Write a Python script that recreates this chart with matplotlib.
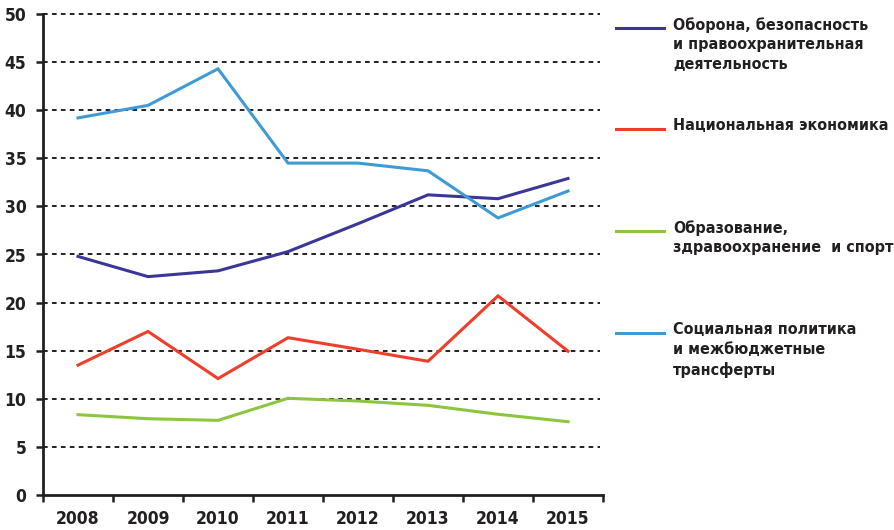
import matplotlib
matplotlib.use("Agg")
import matplotlib.pyplot as plt
from matplotlib.lines import Line2D
from matplotlib import font_manager as fm

years = ["2008", "2009", "2010", "2011", "2012", "2013", "2014", "2015"]
defense = [24.8, 22.7, 23.3, 25.3, 28.2, 31.2, 30.8, 32.9]
economy = [13.5, 17.0, 12.1, 16.35, 15.15, 13.9, 20.7, 14.95]
education = [8.35, 7.93, 7.76, 10.05, 9.77, 9.32, 8.39, 7.62]
social = [39.2, 40.5, 44.3, 34.5, 34.5, 33.7, 28.8, 31.6]

labels = [
    "Оборона, безопасность\nи правоохранительная\nдеятельность",
    "Национальная экономика",
    "Образование,\nздравоохранение  и спорт",
    "Социальная политика\nи межбюджетные\nтрансферты",
]
colors = ["#3b3799", "#ef3e2a", "#8dc540", "#3e9bd6"]
series = [defense, economy, education, social]

cond = [f.fname for f in fm.fontManager.ttflist
        if "condensed" in f.fname.lower() and "bold" in f.fname.lower()
        and "oblique" not in f.fname.lower() and "italic" not in f.fname.lower()]
cond_dv = [p for p in cond if "dejavu" in p.lower()]
pick = (cond_dv or cond)
if pick:
    def fp(size):
        return fm.FontProperties(fname=pick[0], size=size)
    leg_size = 11.5
else:
    def fp(size):
        return fm.FontProperties(family=["Liberation Sans", "DejaVu Sans"], weight="bold", size=size)
    leg_size = 11
txt = "#231f20"

fig = plt.figure(figsize=(8.94, 5.30), dpi=100)
ax = fig.add_axes([43/894, 35/530, 560/894, 481/530])

x = list(range(len(years)))
for vals, c in zip(series, colors):
    ax.plot(x, vals, color=c, lw=2.2, solid_joinstyle="miter", zorder=3)

ax.set_xlim(-0.5, 7.5)
ax.set_ylim(0, 50)
ax.set_yticks(range(0, 51, 5))
for v in range(5, 51, 5):
    ax.plot([-0.5, 7.45], [v, v], color="#231f20", lw=1.4, ls=(0, (2.4, 2.2)), zorder=1, clip_on=False)

ax.set_xticks(x)
ax.set_xticklabels(years)
ax.set_xticks([i - 0.5 for i in range(len(years) + 1)], minor=True)
ax.tick_params(axis="x", which="major", length=0, pad=10.5, labelcolor=txt)
ax.tick_params(axis="x", which="minor", length=5, width=1.8, color=txt, direction="out")
ax.tick_params(axis="y", length=5, width=1.8, color=txt, pad=7, labelcolor=txt)
for lab in ax.get_xticklabels() + ax.get_yticklabels():
    lab.set_fontproperties(fp(12.5))

for s in ["top", "right"]:
    ax.spines[s].set_visible(False)
for s in ["left", "bottom"]:
    ax.spines[s].set_linewidth(2.0)
    ax.spines[s].set_color(txt)

# legend
leg_y = [28, 129, 231, 333]
for lab, c, yy in zip(labels, colors, leg_y):
    fy = 1 - yy / 530
    fig.add_artist(Line2D([616/894, 664/894], [fy, fy], color=c, lw=2.2))
    fig.text(673/894, 1 - (yy - 11) / 530, lab, ha="left", va="top",
             fontproperties=fp(leg_size), color=txt, linespacing=1.38)

fig.savefig("out.png", dpi=100)
